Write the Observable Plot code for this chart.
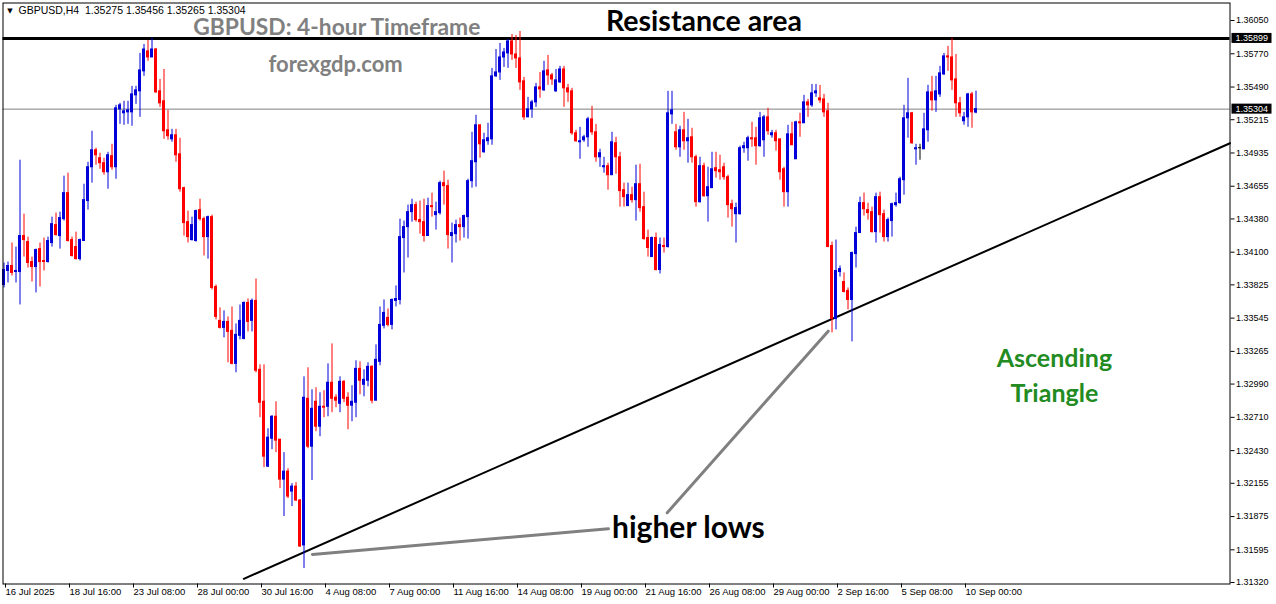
<!DOCTYPE html>
<html>
<head>
<meta charset="utf-8">
<script src="https://cdn.jsdelivr.net/npm/d3@7"></script>
<script src="https://cdn.jsdelivr.net/npm/@observablehq/plot@0.6"></script>
<style>
  html, body { margin: 0; padding: 0; background: #fff; }
</style>
</head>
<body>
<div id="chart"></div>
<script>
// GBPUSD H4 candles, 16 Jul 2025 00:00 → 10 Sep 2025 12:00
const opens = [
1.33824,1.33942,1.33984,1.33933,1.33933,1.34236,1.34185,1.34017,1.33975,1.34126,
1.34026,1.34017,1.34177,1.34328,1.34236,1.34378,1.34597,1.34202,1.34143,1.34042,
1.34194,1.34530,1.34815,1.34958,1.34891,1.34849,1.34773,1.34908,1.34815,1.35302,
1.35269,1.35277,1.35277,1.35420,1.35454,1.35622,1.35790,1.35739,1.35806,1.35454,
1.35370,1.35126,1.35050,1.35084,1.34924,1.34639,1.34353,1.34202,1.34194,1.34454,
1.34378,1.34227,1.34395,1.33807,1.33522,1.33463,1.33513,1.33438,1.33160,1.33396,
1.33370,1.33673,1.33522,1.33690,1.33110,1.32841,1.32295,1.32530,1.32715,1.32522,
1.32186,1.32253,1.32085,1.32127,1.32010,1.31632,1.32866,1.32463,1.32841,1.32631,
1.32799,1.32799,1.33001,1.32875,1.32824,1.33009,1.32875,1.32808,1.32833,1.33118,
1.32984,1.33018,1.33135,1.32850,1.33177,1.33480,1.33547,1.33488,1.33690,1.33698,
1.34219,1.34311,1.34437,1.34496,1.34370,1.34353,1.34236,1.34488,1.34412,1.34429,
1.34681,1.34656,1.34236,1.34252,1.34328,1.34311,1.34395,1.34698,1.34857,1.35168,
1.34941,1.35034,1.35050,1.35580,1.35613,1.35739,1.35773,1.35874,1.35764,1.35731,
1.35538,1.35235,1.35302,1.35361,1.35487,1.35462,1.35630,1.35588,1.35454,1.35529,
1.35638,1.35479,1.35454,1.35101,1.35025,1.35042,1.35067,1.35218,1.35109,1.34899,
1.34815,1.34824,1.34748,1.35017,1.34899,1.34622,1.34488,1.34580,1.34538,1.34672,
1.34479,1.34219,1.34059,1.34219,1.33950,1.34152,1.34143,1.35260,1.35109,1.34983,
1.35126,1.35034,1.35067,1.34899,1.34521,1.34824,1.34571,1.34639,1.34807,1.34790,
1.34815,1.34731,1.34504,1.34420,1.34420,1.34975,1.34975,1.35059,1.35059,1.34992,
1.35042,1.35235,1.35084,1.35101,1.35050,1.34798,1.34605,1.35092,1.34882,1.35193,
1.35185,1.35361,1.35336,1.35437,1.35395,1.35386,1.35286,1.34152,1.33538,1.33933,
1.33849,1.33774,1.33698,1.34084,1.34261,1.34513,1.34454,1.34437,1.34269,1.34563,
1.34420,1.34227,1.34362,1.34496,1.34513,1.34706,1.35227,1.35269,1.34966,1.34975,
1.34966,1.35126,1.35445,1.35378,1.35428,1.35596,1.35748,1.35739,1.35554,1.35353,
1.35202,1.35235,1.35428,1.35275
];
const highs = [
1.34009,1.34017,1.34177,1.34143,1.34874,1.34420,1.34227,1.34059,1.34126,1.34177,
1.34219,1.34227,1.34395,1.34429,1.34437,1.34740,1.34765,1.34227,1.34269,1.34210,
1.34672,1.34857,1.35118,1.34975,1.34933,1.34891,1.34941,1.35008,1.35336,1.35353,
1.35370,1.35370,1.35496,1.35496,1.35773,1.35848,1.35882,1.35899,1.35815,1.35554,
1.35638,1.35294,1.35134,1.35134,1.35059,1.34647,1.34446,1.34395,1.34454,1.34546,
1.34395,1.34404,1.34412,1.33824,1.33631,1.33606,1.33555,1.33639,1.33496,1.33656,
1.33681,1.33706,1.33706,1.33874,1.33152,1.33152,1.32614,1.32724,1.32841,1.32522,
1.32413,1.32278,1.32152,1.32161,1.32018,1.33051,1.33127,1.32942,1.32959,1.32917,
1.32934,1.33160,1.33328,1.32900,1.33051,1.33018,1.32917,1.32976,1.33186,1.33177,
1.33110,1.33169,1.33144,1.33320,1.33639,1.33698,1.33622,1.33706,1.33816,1.34378,
1.34362,1.34496,1.34546,1.34521,1.34530,1.34546,1.34555,1.34597,1.34521,1.34698,
1.34782,1.34706,1.34345,1.34370,1.34387,1.34412,1.34714,1.35109,1.35252,1.35168,
1.35101,1.35185,1.35647,1.35806,1.35857,1.35815,1.35890,1.35932,1.35924,1.35958,
1.35571,1.35403,1.35378,1.35521,1.35613,1.35706,1.35756,1.35605,1.35638,1.35664,
1.35664,1.35512,1.35479,1.35126,1.35151,1.35084,1.35235,1.35328,1.35176,1.34966,
1.34899,1.34849,1.35109,1.35067,1.34941,1.34681,1.34681,1.34647,1.34832,1.34840,
1.34605,1.34286,1.34227,1.34261,1.34219,1.34219,1.35454,1.35454,1.35176,1.35160,
1.35277,1.35218,1.35143,1.34916,1.34899,1.34849,1.34815,1.34941,1.34941,1.34916,
1.34849,1.34748,1.34538,1.34513,1.34992,1.35025,1.35076,1.35193,1.35151,1.35277,
1.35252,1.35311,1.35126,1.35126,1.35050,1.34815,1.35168,1.35193,1.35202,1.35269,
1.35420,1.35386,1.35512,1.35512,1.35504,1.35428,1.35353,1.34185,1.34202,1.33984,
1.33925,1.33799,1.34101,1.34311,1.34563,1.34597,1.34513,1.34479,1.34597,1.34605,
1.34454,1.34387,1.34513,1.34597,1.34731,1.35336,1.35563,1.35277,1.35008,1.35008,
1.35269,1.35504,1.35580,1.35580,1.35664,1.35773,1.35832,1.35899,1.35764,1.35403,
1.35277,1.35437,1.35445,1.35456
];
const lows = [
1.33799,1.33841,1.33900,1.33841,1.33656,1.34059,1.33967,1.33849,1.33757,1.33807,
1.33942,1.34009,1.34143,1.34236,1.34126,1.34362,1.34185,1.34059,1.34034,1.34026,
1.34194,1.34454,1.34681,1.34832,1.34798,1.34748,1.34630,1.34790,1.34714,1.35176,
1.35168,1.35176,1.35160,1.35344,1.35235,1.35580,1.35706,1.35739,1.35437,1.35319,
1.35050,1.35042,1.35025,1.34857,1.34605,1.34236,1.34177,1.34194,1.34185,1.34362,
1.34068,1.34042,1.33782,1.33530,1.33454,1.33379,1.33169,1.33152,1.33085,1.33362,
1.33362,1.33429,1.33429,1.33085,1.32707,1.32287,1.32287,1.32438,1.32413,1.32110,
1.31875,1.32026,1.31959,1.32001,1.31615,1.31438,1.32446,1.32178,1.32589,1.32547,
1.32707,1.32715,1.32749,1.32791,1.32749,1.32833,1.32606,1.32673,1.32707,1.32900,
1.32883,1.32967,1.32824,1.32850,1.33144,1.33454,1.33471,1.33446,1.33639,1.33656,
1.33925,1.34051,1.34353,1.34353,1.34252,1.34185,1.34236,1.34395,1.34286,1.34412,
1.34496,1.34126,1.34009,1.34177,1.34194,1.34219,1.34210,1.34639,1.34647,1.34891,
1.34933,1.35000,1.35000,1.35571,1.35546,1.35655,1.35647,1.35714,1.35647,1.35462,
1.35210,1.35235,1.35227,1.35319,1.35395,1.35454,1.35504,1.35504,1.35445,1.35521,
1.35319,1.35361,1.35084,1.35025,1.34882,1.35025,1.34983,1.35084,1.34857,1.34815,
1.34765,1.34622,1.34748,1.34756,1.34479,1.34479,1.34488,1.34513,1.34362,1.34437,
1.34202,1.34059,1.34059,1.33942,1.33916,1.34093,1.34135,1.35176,1.34958,1.34899,
1.34958,1.34849,1.34849,1.34479,1.34513,1.34563,1.34353,1.34639,1.34723,1.34706,
1.34706,1.34387,1.34311,1.34177,1.34412,1.34933,1.34866,1.34983,1.34832,1.34983,
1.34899,1.35084,1.35059,1.34950,1.34706,1.34479,1.34479,1.35000,1.34882,1.35067,
1.35185,1.35235,1.35319,1.35403,1.35353,1.35235,1.34143,1.33421,1.33446,1.33891,
1.33757,1.33614,1.33345,1.33967,1.34261,1.34404,1.34370,1.34261,1.34177,1.34261,
1.34185,1.34185,1.34227,1.34479,1.34504,1.34580,1.35059,1.35008,1.34832,1.34874,
1.34966,1.35025,1.35286,1.35277,1.35403,1.35588,1.35622,1.35462,1.35235,1.35235,
1.35168,1.35151,1.35143,1.35265
];
const closes = [
1.33950,1.33984,1.33925,1.33942,1.34236,1.34202,1.34009,1.33975,1.34118,1.34017,
1.34017,1.34194,1.34336,1.34244,1.34387,1.34597,1.34194,1.34068,1.34042,1.34202,
1.34538,1.34815,1.34958,1.34916,1.34849,1.34773,1.34916,1.34815,1.35311,1.35336,
1.35286,1.35294,1.35428,1.35462,1.35630,1.35806,1.35739,1.35806,1.35445,1.35353,
1.35118,1.35076,1.35084,1.34916,1.34630,1.34345,1.34227,1.34328,1.34446,1.34378,
1.34227,1.34395,1.33799,1.33555,1.33463,1.33513,1.33429,1.33160,1.33404,1.33522,
1.33673,1.33513,1.33690,1.33102,1.32833,1.32379,1.32539,1.32715,1.32514,1.32186,
1.32253,1.32043,1.32127,1.32010,1.31623,1.32875,1.32463,1.32782,1.32631,1.32799,
1.32791,1.33001,1.32866,1.32850,1.33009,1.32866,1.32808,1.32841,1.33118,1.33018,
1.33026,1.33135,1.32850,1.33194,1.33488,1.33589,1.33488,1.33698,1.33706,1.34227,
1.34311,1.34437,1.34496,1.34370,1.34353,1.34236,1.34488,1.34479,1.34437,1.34681,
1.34656,1.34244,1.34261,1.34328,1.34311,1.34404,1.34698,1.34866,1.35168,1.35008,
1.35042,1.35059,1.35580,1.35613,1.35739,1.35781,1.35874,1.35764,1.35731,1.35529,
1.35235,1.35302,1.35361,1.35487,1.35470,1.35622,1.35588,1.35554,1.35546,1.35638,
1.35479,1.35445,1.35101,1.35034,1.35034,1.35067,1.35218,1.35109,1.34899,1.34933,
1.34824,1.34748,1.35025,1.34899,1.34614,1.34563,1.34580,1.34538,1.34672,1.34471,
1.34210,1.34135,1.34219,1.33950,1.34160,1.34143,1.35269,1.35294,1.34983,1.35126,
1.35034,1.35059,1.34899,1.34521,1.34824,1.34571,1.34647,1.34798,1.34782,1.34773,
1.34731,1.34496,1.34462,1.34471,1.34975,1.34992,1.35059,1.35050,1.34992,1.35227,
1.35235,1.35118,1.35101,1.35034,1.34773,1.34605,1.35092,1.35000,1.35193,1.35185,
1.35361,1.35336,1.35437,1.35454,1.35378,1.35277,1.34143,1.33538,1.33942,1.33958,
1.33765,1.33698,1.34093,1.34261,1.34513,1.34462,1.34429,1.34269,1.34563,1.34412,
1.34227,1.34370,1.34504,1.34513,1.34714,1.35227,1.35269,1.35017,1.34975,1.34975,
1.35134,1.35445,1.35378,1.35454,1.35605,1.35748,1.35739,1.35546,1.35353,1.35269,
1.35235,1.35428,1.35277,1.35304
];

// time-axis labels and the bar index each one sits on
const timeLabels = ["16 Jul 2025","18 Jul 16:00","23 Jul 08:00","28 Jul 00:00","30 Jul 16:00",
  "4 Aug 08:00","7 Aug 00:00","11 Aug 16:00","14 Aug 08:00","19 Aug 00:00","21 Aug 16:00",
  "26 Aug 08:00","29 Aug 00:00","2 Sep 16:00","5 Sep 08:00","10 Sep 00:00"];
const timeLabelBars = [0,16,32,48,64,80,96,112,128,144,160,176,192,208,224,240];

// price-axis tick labels
const priceTicks = [1.36050,1.35770,1.35490,1.35215,1.34935,1.34655,1.34380,1.34100,1.33825,
  1.33545,1.33265,1.32990,1.32710,1.32430,1.32155,1.31875,1.31595,1.31320];

const resistance = 1.35899;
const bidPrice = 1.35304;

// annotation geometry in data units (bar index, price)
const trendLine = [{i: 59.95, p: 1.31351}, {i: 306.5, p: 1.35017}];
const pointer1 = [{i: 77.1, p: 1.31556}, {i: 151.1, p: 1.31772}];
const pointer2 = [{i: 165.8, p: 1.31907}, {i: 206.05, p: 1.33435}];
const notes = [
  {text: "Resistance area", i: 175, p: 1.36070, color: "#000", size: 28.5},
  {text: "GBPUSD: 4-hour Timeframe", i: 83.2, p: 1.36016, color: "#808080", size: 22.8},
  {text: "forexgdp.com", i: 82.9, p: 1.35696, color: "#808080", size: 22},
  {text: "Ascending\nTriangle", i: 262.6, p: 1.33083, color: "#228B22", size: 25},
  {text: "higher lows", i: 171.1, p: 1.31810, color: "#000", size: 30}
];

const N = opens.length;
const candles = d3.range(N).map(i => ({i, o: opens[i], h: highs[i], l: lows[i], c: closes[i]}));
const UP = "#0000d8", DOWN = "#ff0000", FLAT = "#000000";
const col = d => d.c > d.o ? UP : d.c < d.o ? DOWN : FLAT;
const labelOf = new Map(timeLabelBars.map((b, k) => [b, timeLabels[k]]));
const f5 = d3.format(".5f");
const last = candles[N - 1];
const header = `GBPUSD,H4  ${f5(last.o)} ${f5(last.h)} ${f5(last.l)} ${f5(last.c)}`;

const plot = Plot.plot({
  width: 1276,
  height: 604,
  marginTop: 2.5,
  marginLeft: 2.5,
  marginRight: 46.5,
  marginBottom: 20.5,
  style: {fontFamily: "'Liberation Sans', Arial, sans-serif", fontSize: "9px", background: "#fff", overflow: "visible"},
  x: {domain: [0, N - 1], range: [3.5, 975.5]},
  y: {domain: [1.31320, 1.36050], range: [582, 20]},
  color: {type: "identity"},
  marks: [
    Plot.ruleY([bidPrice], {stroke: "#808080", strokeWidth: 1}),
    Plot.ruleY([resistance], {stroke: "#000", strokeWidth: 3}),
    Plot.line(trendLine, {x: "i", y: "p", stroke: "#000", strokeWidth: 2}),
    Plot.line(pointer1, {x: "i", y: "p", stroke: "#808080", strokeWidth: 3}),
    Plot.line(pointer2, {x: "i", y: "p", stroke: "#808080", strokeWidth: 3}),
    Plot.ruleX(candles, {x: "i", y1: "l", y2: "h", stroke: col, strokeWidth: 1}),
    Plot.rect(candles, {
      x1: d => d.i - 0.375, x2: d => d.i + 0.375,
      y1: d => Math.min(d.o, d.c), y2: d => Math.max(d.o, d.c),
      fill: col, insetTop: -0.5, insetBottom: -0.5
    }),
    Plot.text(notes, {x: "i", y: "p", text: "text", fill: "color", fontSize: "size",
      fontWeight: "bold", fontFamily: "Lato, 'Open Sans', sans-serif", textAnchor: "middle",
      lineAnchor: "middle", lineHeight: 1.4}),
    Plot.text(["\u25BC"], {frameAnchor: "top-left", dx: 7, dy: 7.5, fontSize: 7,
      fontFamily: "'DejaVu Sans', sans-serif", textAnchor: "middle", lineAnchor: "middle", fill: "#000"}),
    Plot.text([header], {frameAnchor: "top-left", dx: 15.5, dy: 7.5, fontSize: 10.5,
      textAnchor: "start", lineAnchor: "middle", fill: "#000"}),
    Plot.frame({stroke: "#000", strokeWidth: 1}),
    Plot.axisY({anchor: "right", ticks: priceTicks, tickFormat: f5, tickSize: 4, tickPadding: 2,
      label: null, fontSize: 9}),
    Plot.axisX({anchor: "bottom", ticks: timeLabelBars, tickFormat: d => labelOf.get(d),
      tickSize: 4, tickPadding: 0, textAnchor: "start", dx: 1.5, label: null, fontSize: 9.5})
  ]
});

// highlighted price boxes on the right axis (resistance level and current bid)
const ys = plot.scale("y");
const sel = d3.select(plot);
[resistance, bidPrice].forEach(v => {
  const yy = ys.apply(v);
  sel.append("rect").attr("x", 1231.5).attr("y", yy - 5).attr("width", 40).attr("height", 10).attr("fill", "#000");
  sel.append("text").attr("x", 1235.5).attr("y", yy).attr("dy", "0.35em")
    .attr("text-anchor", "start").attr("fill", "#fff").attr("font-size", 9).text(f5(v));
});

document.getElementById("chart").appendChild(plot);
</script>
</body>
</html>
